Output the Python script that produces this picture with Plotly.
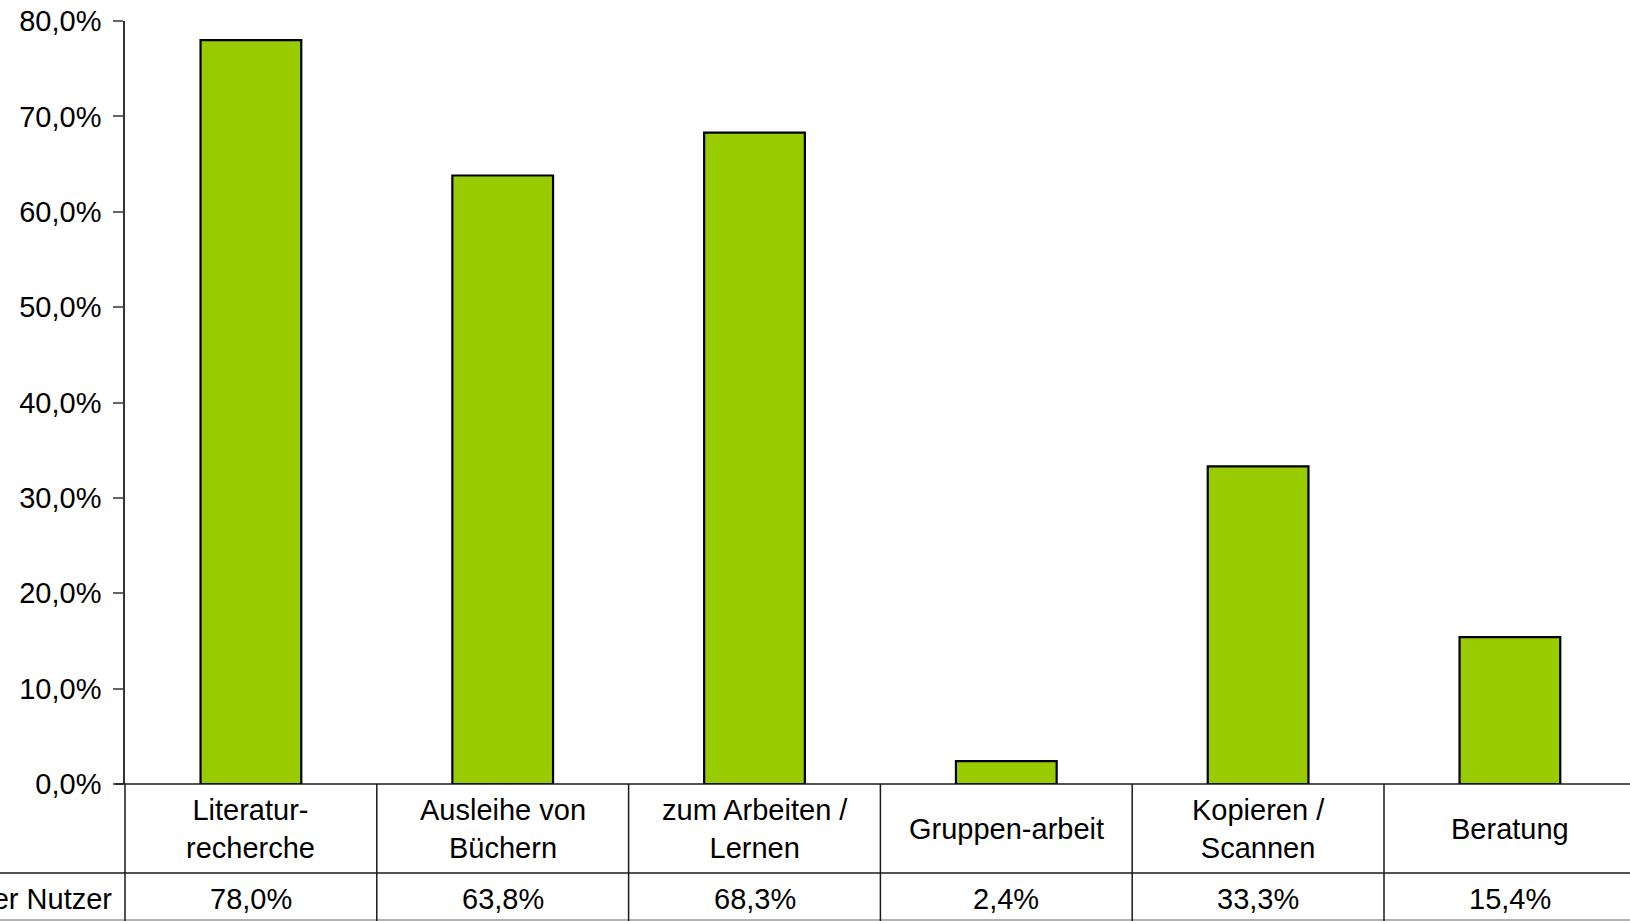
import plotly.graph_objects as go

categories = ["Literatur-<br>recherche", "Ausleihe von<br>Büchern", "zum Arbeiten /<br>Lernen",
              "Gruppen-arbeit", "Kopieren /<br>Scannen", "Beratung"]
values = [78.0, 63.8, 68.3, 2.4, 33.3, 15.4]
series_name = "Anteil der Nutzer"
y_ticks = [0, 10, 20, 30, 40, 50, 60, 70, 80]
y_ticktext = [f"{v:.1f}%".replace(".", ",") for v in y_ticks]

W, H = 1630, 921
L, T, B = 125, 21, 137
plot_w = W - L
plot_h = H - T - B
col_w = 251.8
x_min = -0.5
x_max = x_min + plot_w / col_w

def py(pix):
    # pixel y (from top) -> paper y
    return (H - B - pix) / plot_h

def px(pix):
    # pixel x (from left) -> paper x
    return (pix - L) / plot_w

def xd(v):
    # data x -> paper x
    return (v - x_min) / (x_max - x_min)

FONT = "Liberation Sans, Arial, Helvetica, sans-serif"
FS = 29
x = list(range(len(values)))

fig = go.Figure()
fig.add_trace(go.Bar(
    x=x, y=values, width=0.4,
    marker=dict(color="#99CC00", line=dict(color="#000000", width=2.2)),
    name=series_name, showlegend=False, hoverinfo="y",
))

shapes = []
line_col = "#1a1a1a"
shapes.append(dict(type="line", xref="paper", yref="paper", x0=px(115), x1=1, y0=0, y1=0,
                   line=dict(color=line_col, width=1.5)))
shapes.append(dict(type="line", xref="paper", yref="paper", x0=px(0), x1=1, y0=py(873), y1=py(873),
                   line=dict(color=line_col, width=1.5)))
shapes.append(dict(type="line", xref="paper", yref="paper", x0=px(0), x1=1, y0=py(920), y1=py(920),
                   line=dict(color="#9a9a9a", width=1.5)))
for i in range(len(values)):
    xp = xd(i - 0.5)
    shapes.append(dict(type="line", xref="paper", yref="paper", x0=xp, x1=xp, y0=0, y1=py(922),
                       line=dict(color=line_col, width=1.5)))

annotations = []
for i, (c, v) in enumerate(zip(categories, values)):
    annotations.append(dict(x=i, y=py(829), xref="x", yref="paper", text=c, showarrow=False,
                            xanchor="center", yanchor="middle",
                            font=dict(family=FONT, size=FS, color="#000000")))
    annotations.append(dict(x=i, y=py(899), xref="x", yref="paper",
                            text=f"{v:.1f}%".replace(".", ","), showarrow=False,
                            xanchor="center", yanchor="middle",
                            font=dict(family=FONT, size=FS, color="#000000")))
annotations.append(dict(x=px(114), y=py(899), xref="paper", yref="paper",
                        text=series_name, showarrow=False, xanchor="right", yanchor="middle",
                        font=dict(family=FONT, size=FS, color="#000000")))

fig.update_layout(
    width=W, height=H,
    margin=dict(l=L, r=0, t=T, b=B, pad=0),
    plot_bgcolor="white", paper_bgcolor="white",
    bargap=0.6,
    xaxis=dict(range=[x_min, x_max], showticklabels=False, showgrid=False, zeroline=False,
               showline=False, ticks="", fixedrange=True),
    yaxis=dict(range=[0, 80], tickmode="array", tickvals=y_ticks, ticktext=y_ticktext,
               showgrid=False, zeroline=False, showline=True, linecolor="#333333", linewidth=1.5,
               ticks="outside", ticklen=10, tickcolor="#666666", tickwidth=1.5,
               ticklabelstandoff=6,
               tickfont=dict(family=FONT, size=FS, color="#000000"), fixedrange=True),
    shapes=shapes, annotations=annotations,
)

fig.write_html("out.html", config={"displayModeBar": False},
               post_script="document.body.style.margin='0';document.body.style.overflow='hidden';")
